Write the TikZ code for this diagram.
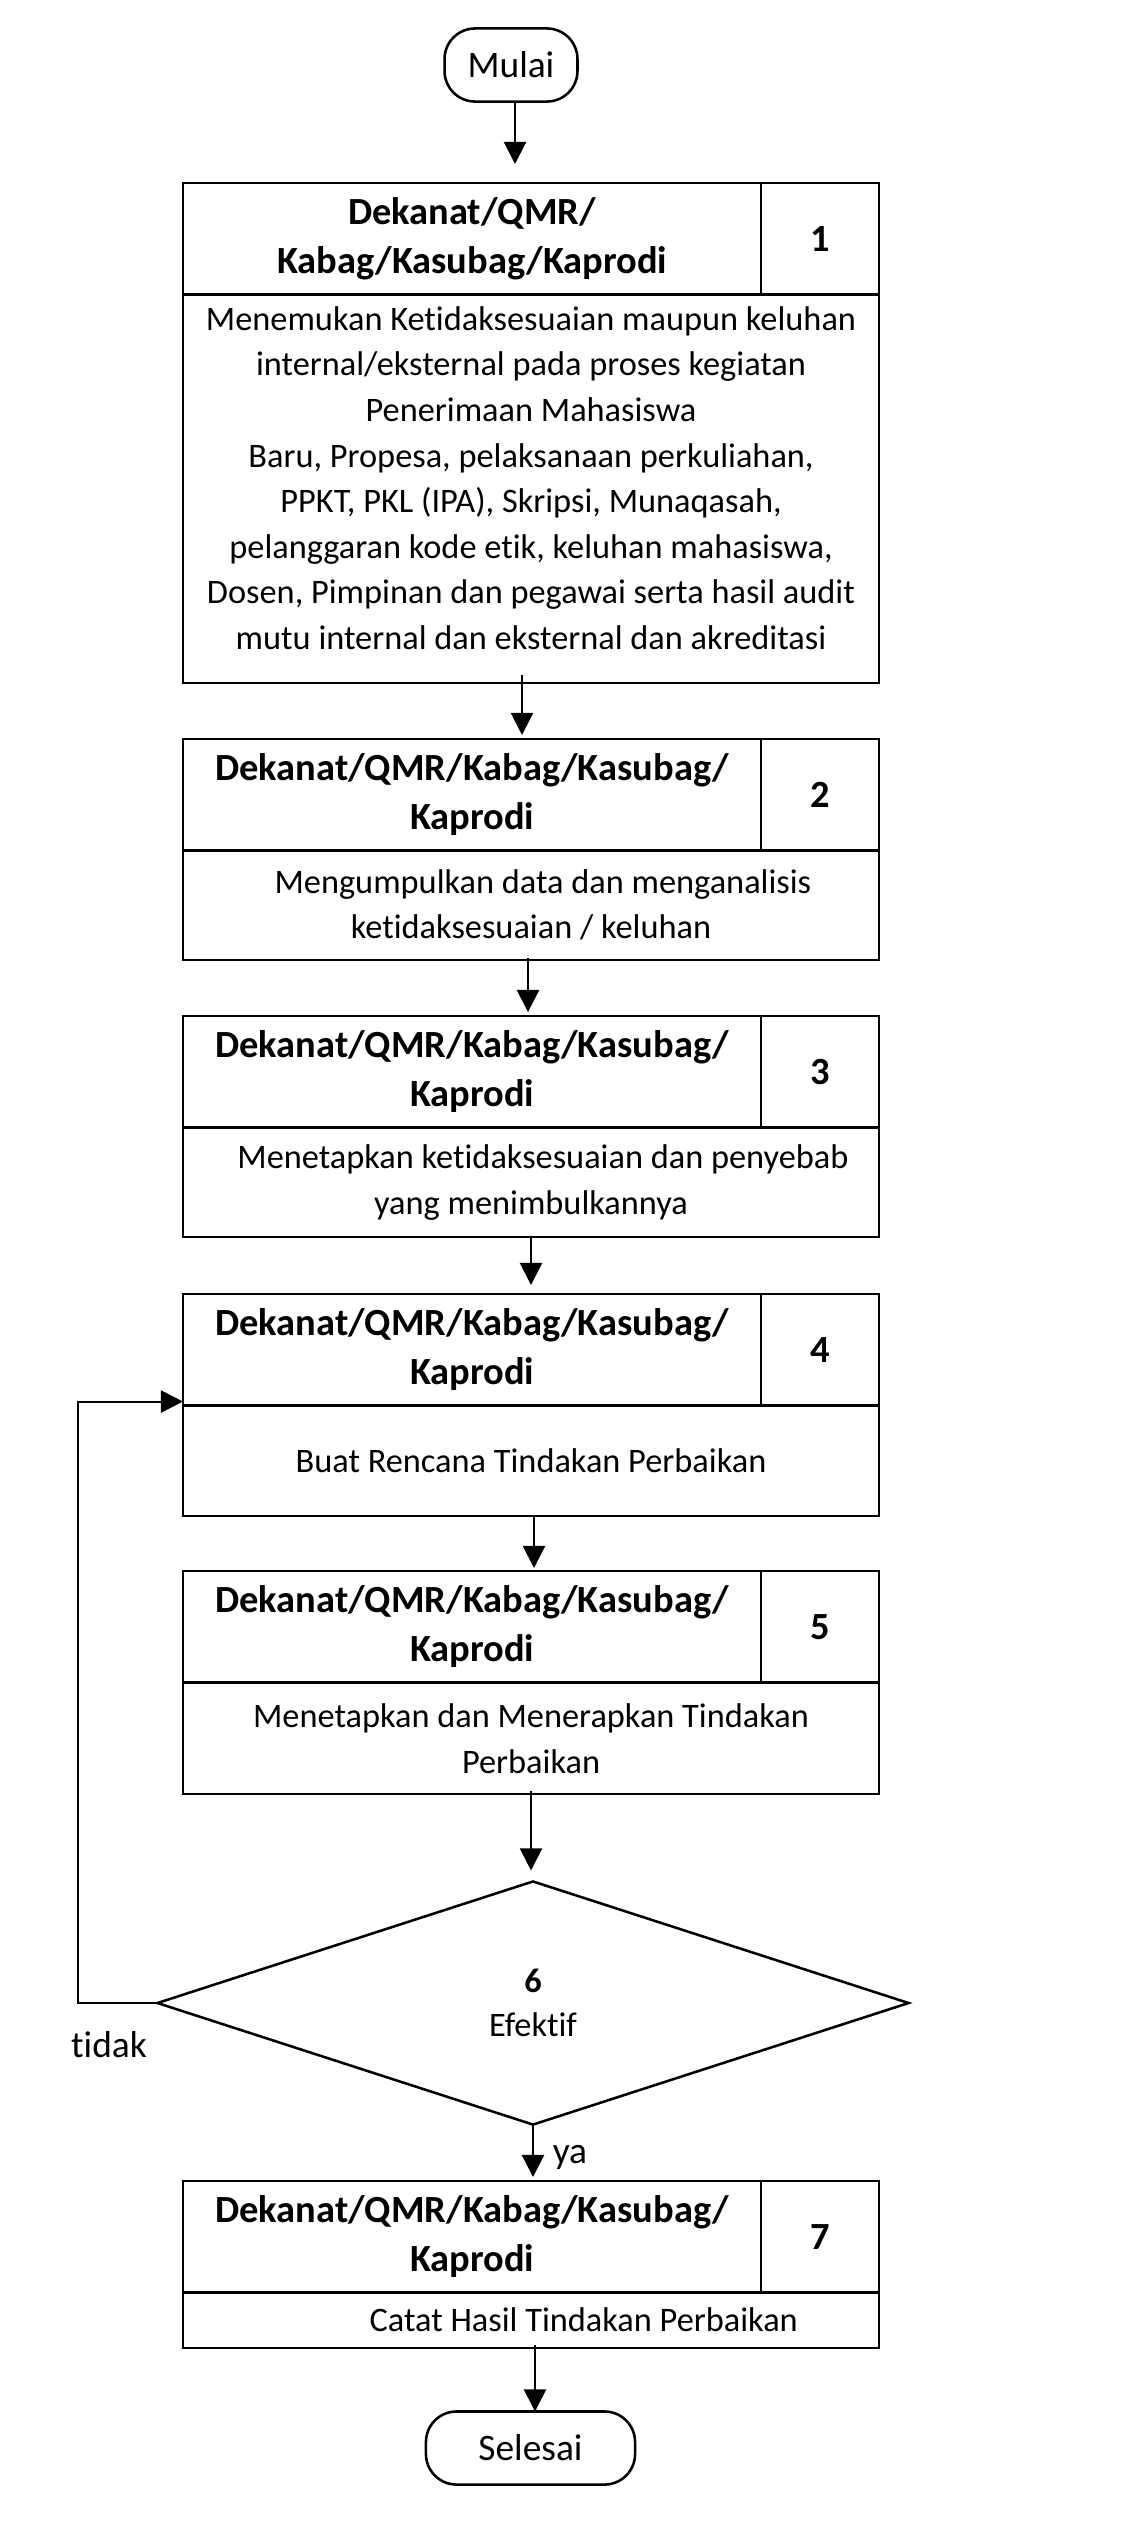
\documentclass[tikz,border=0pt]{standalone}
\usepackage{fontspec}
\setmainfont{Carlito}[Ligatures={NoCommon}]
\usetikzlibrary{arrows.meta,shapes.geometric,calc}
\begin{document}
\begin{tikzpicture}[x=0.2941pt,y=-0.2941pt,
  every node/.style={inner sep=0pt, outer sep=0pt},
  cell/.style={draw, line width=0.75pt, rectangle, anchor=north west, align=center},
  hdr/.style={cell, minimum width=170pt, minimum height=32.8pt, font=\fontsize{11.3}{14.4}\selectfont\bfseries},
  num/.style={cell, minimum width=34.7pt, minimum height=32.8pt, font=\fontsize{11.3}{14.4}\selectfont\bfseries},
  body/.style={cell, minimum width=204.7pt, font=\fontsize{10.1}{13.4}\selectfont},
  btext/.style={align=center, font=\fontsize{10.1}{13.4}\selectfont},
  term/.style={draw, line width=0.75pt, rounded corners=9pt, minimum height=21.5pt, font=\fontsize{11}{13.4}\selectfont},
  lbl/.style={font=\fontsize{11}{13.4}\selectfont},
  arr/.style={-{Triangle[length=6.5pt,width=6.5pt]}, line width=0.6pt},
  line/.style={line width=0.6pt}
]
\fill[white] (0,0) rectangle (1136,2533);
\useasboundingbox (0,0) rectangle (1136,2533);

% start
\node[term, minimum width=39.1pt] (mulai) at (511,65) {Mulai};

% box 1
\node[hdr] (h1) at (183,183) {Dekanat/QMR/\\Kabag/Kasubag/Kaprodi};
\node[num] (n1) at (761,183) {1};
\node[body, minimum height=114.1pt] (b1) at (183,295) {};
\node[btext] (t1) at (531,478) {Menemukan Ketidaksesuaian maupun keluhan\\internal/eksternal pada proses kegiatan\\Penerimaan Mahasiswa\\Baru, Propesa, pelaksanaan perkuliahan,\\PPKT, PKL (IPA), Skripsi, Munaqasah,\\pelanggaran kode etik, keluhan mahasiswa,\\Dosen, Pimpinan dan pegawai serta hasil audit\\mutu internal dan eksternal dan akreditasi};

% box 2
\node[hdr] (h2) at (183,739) {Dekanat/QMR/Kabag/Kasubag/\\Kaprodi};
\node[num] (n2) at (761,739) {2};
\node[body, minimum height=32.35pt] (b2) at (183,850) {\hspace*{7pt}Mengumpulkan data dan menganalisis\\ketidaksesuaian / keluhan};

% box 3
\node[hdr] (h3) at (183,1016) {Dekanat/QMR/Kabag/Kasubag/\\Kaprodi};
\node[num] (n3) at (761,1016) {3};
\node[body, minimum height=32.1pt] (b3) at (183,1128) {\hspace*{7pt}Menetapkan ketidaksesuaian dan penyebab\\yang menimbulkannya};

% box 4
\node[hdr] (h4) at (183,1294) {Dekanat/QMR/Kabag/Kasubag/\\Kaprodi};
\node[num] (n4) at (761,1294) {4};
\node[body, minimum height=32.6pt] (b4) at (183,1405) {Buat Rencana Tindakan Perbaikan};

% box 5
\node[hdr] (h5) at (183,1571) {Dekanat/QMR/Kabag/Kasubag/\\Kaprodi};
\node[num] (n5) at (761,1571) {5};
\node[body, minimum height=32.6pt] (b5) at (183,1683) {Menetapkan dan Menerapkan Tindakan\\Perbaikan};

% decision
\node[draw, diamond, line width=0.75pt, minimum width=220.9pt, minimum height=71.5pt, align=center, font=\fontsize{10.1}{12.9}\selectfont] (dia) at (533,2003) {\textbf{6}\\Efektif};

% box 7
\node[hdr] (h7) at (183,2181) {Dekanat/QMR/Kabag/Kasubag/\\Kaprodi};
\node[num] (n7) at (761,2181) {7};
\node[body, minimum height=16.5pt] (b7) at (183,2292) {\hspace*{31pt}Catat Hasil Tindakan Perbaikan};

% end
\node[term, minimum width=61.5pt] (selesai) at (530.5,2448) {Selesai};

% labels
\node[lbl] (tidak) at (109,2045) {tidak};
\node[lbl] (ya) at (570,2157) {ya};

% connectors
\draw[arr] ($(mulai.south)+(4,0)$) -- ($(h1.north -| mulai.south)+(4,-19)$);
\draw[arr] ($(b1.south)+(-9,-8)$) -- ($(b2.center |- h2.north)+(-9,-4)$);
\draw[arr] ($(b2.south)+(-3,-2)$) -- ($(b3.center |- h3.north)+(-3,-4)$);
\draw[arr] (b3.south) -- ($(b4.center |- h4.north)+(0,-9)$);
\draw[arr] ($(b4.south)+(3,0)$) -- ($(b5.center |- h5.north)+(3,-3)$);
\draw[arr] ($(b5.south)+(0,-3)$) -- ($(dia.north -| b5.center)+(0,-11)$);
\draw[arr] (dia.south) -- ($(h7.north -| dia.south)+(0,-4)$);
\draw[arr] ($(b7.south)+(4,-3)$) -- (selesai.north -| {$(b7.south)+(4,0)$});
\draw[arr] (dia.west) -| ($(h4.south west)+(-105,-4)$) -- ($(h4.south west)+(0,-4)$);
\end{tikzpicture}
\end{document}
